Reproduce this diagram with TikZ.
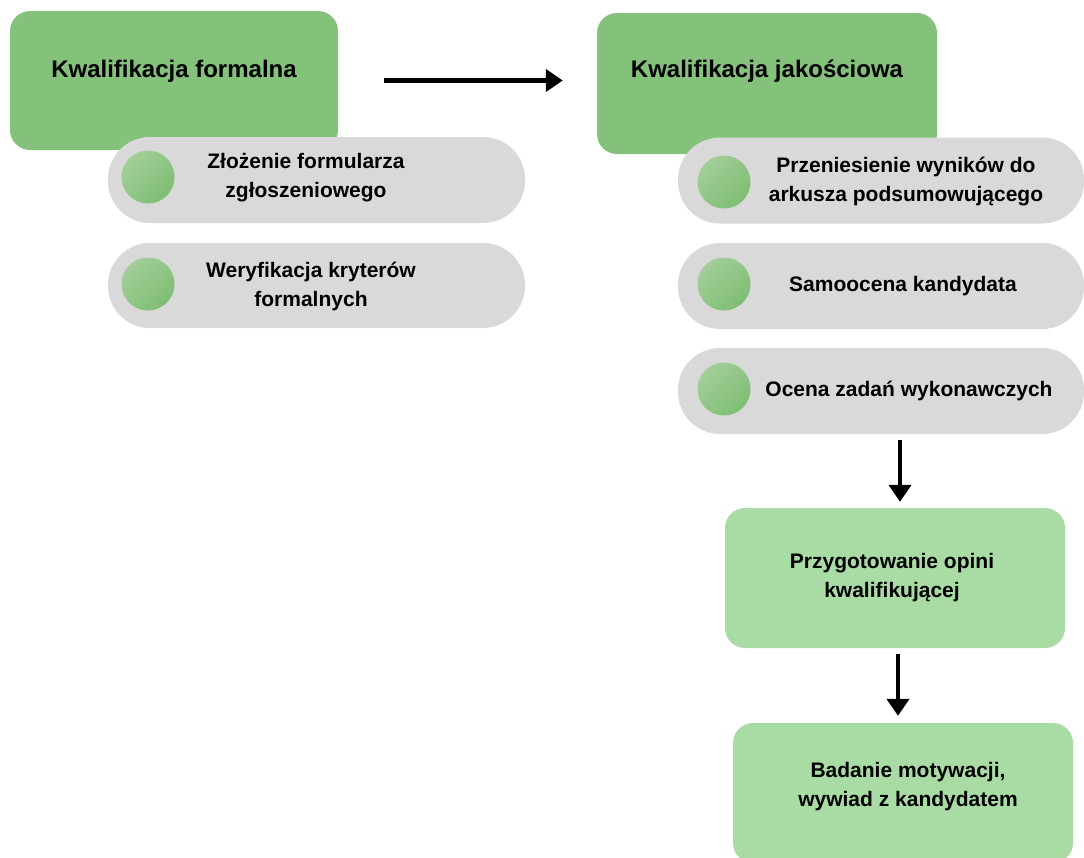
\documentclass[tikz,border=0pt]{standalone}
\usepackage{fontspec}
\setmainfont{Liberation Sans}
\usetikzlibrary{arrows.meta}
\usetikzlibrary{positioning}
\definecolor{headgreen}{HTML}{84C17B}
\definecolor{stepgreen}{HTML}{A9DBA4}
\definecolor{pillgray}{HTML}{D9D9D9}
\definecolor{dotlight}{HTML}{A3CE99}
\definecolor{dotdark}{HTML}{7EBE74}

\begin{document}
\begin{tikzpicture}[x=1pt,y=-1pt]
  % Styles for boxes, pills and arrows
  \tikzset{
    headbox/.style={
      fill=headgreen,
      rounded corners=20pt,
      inner sep=0pt
    },
    stepbox/.style={
      fill=stepgreen,
      rounded corners=20pt,
      inner sep=0pt,
      minimum width=340pt,
      minimum height=140pt
    },
    pill/.style={
      fill=pillgray,
      rounded corners=42pt,
      inner sep=0pt,
      minimum height=86pt
    },
    greendot/.style={
      circle,
      inner sep=0pt,
      minimum size=53pt,
      top color=dotlight,
      bottom color=dotdark,
      shading angle=45
    },
    headtext/.style={
      anchor=base,
      inner sep=0pt,
      font=\fontsize{24}{29}\selectfont\bfseries
    },
    itemtext/.style={
      anchor=base,
      inner sep=0pt,
      align=center,
      font=\fontsize{21}{29}\selectfont\bfseries
    },
    flow/.style={
      draw=black,
      line width=4.5pt,
      -{Triangle[length=17pt,width=22pt]}
    }
  }
  \clip (0,0) rectangle (1084,857);

  % Left column: formal qualification
  \node[headbox, minimum width=328pt, minimum height=139pt] (formal) at (174,80.5) {};
  \node[headtext] (formaltxt) at (174,77) {Kwalifikacja formalna};
  \node[pill, minimum width=417pt] (form) at (316.5,180) {};
  \node[greendot] (formdot) at (148,177) {};
  \node[itemtext] (formtxt) at (306,197) {Złożenie formularza\\zgłoszeniowego};
  \node[pill, minimum width=417pt, minimum height=85pt] (verify) at (316.5,285.5) {};
  \node[greendot] (verifydot) at (148,284) {};
  \node[itemtext] (verifytxt) at (311,306) {Weryfikacja kryterów\\formalnych};

  % Right column: quality qualification
  \node[headbox, minimum width=340pt, minimum height=141pt] (quality) at (767,83.5) {};
  \node[headtext] (qualitytxt) at (767,77) {Kwalifikacja jakościowa};
  \node[pill, minimum width=406pt] (sheet) at (881,180.5) {};
  \node[greendot] (sheetdot) at (724,182) {};
  \node[itemtext] (sheettxt) at (906,201) {Przeniesienie wyników do\\arkusza podsumowującego};
  \node[pill, minimum width=406pt] (self) at (881,286) {};
  \node[greendot] (selfdot) at (724,284) {};
  \node[itemtext] (selftxt) at (903,291) {Samoocena kandydata};
  \node[pill, minimum width=406pt] (tasks) at (881,391) {};
  \node[greendot] (tasksdot) at (724,389) {};
  \node[itemtext] (taskstxt) at (909,396) {Ocena zadań wykonawczych};

  % Final steps
  \node[stepbox] (opinion) at (895,578) {};
  \node[itemtext] (opiniontxt) at (892,597) {Przygotowanie opini\\kwalifikującej};
  \node[stepbox] (interview) at (903,793) {};
  \node[itemtext] (interviewtxt) at (908,806) {Badanie motywacji,\\wywiad z kandydatem};

  % Arrows
  \draw[flow, shorten <=46pt, shorten >=34pt] (formal.east) -- (formal.east -| quality.west);
  \draw[flow, shorten <=6pt, shorten >=6pt]
    ([xshift=5pt]opinion.north |- tasks.south) -- ([xshift=5pt]opinion.north);
  \draw[flow, shorten <=6pt, shorten >=7pt]
    ([xshift=3pt]opinion.south) -- ([xshift=3pt]opinion.south |- interview.north);
\end{tikzpicture}
\end{document}
